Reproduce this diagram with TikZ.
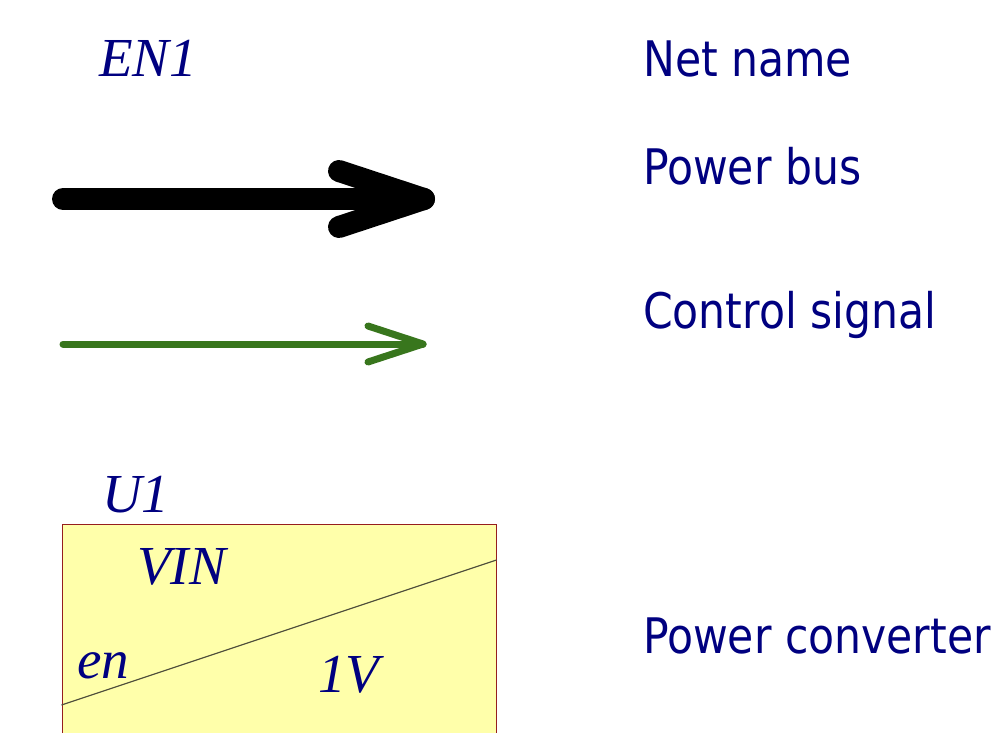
\documentclass[tikz,border=0pt]{standalone}
\usepackage{fontspec}
\setmainfont{Liberation Serif}
\newfontfamily\labelfont[FakeStretch=0.965]{DejaVu Sans Condensed}
\definecolor{navy}{RGB}{0,0,128}
\definecolor{ctrlgreen}{RGB}{56,118,29}
\definecolor{boxfill}{RGB}{255,255,170}
\definecolor{boxedge}{RGB}{150,30,30}
\definecolor{diag}{RGB}{80,80,60}
\tikzset{
  serlabel/.style={inner sep=0pt, anchor=base west, text=navy, font=\fontsize{55}{55}\selectfont\itshape},
  desc/.style={inner sep=0pt, anchor=base west, text=navy, font=\fontsize{49}{49}\selectfont\labelfont},
  bus/.style={line width=22pt, line cap=round, line join=round, black},
  ctrl/.style={line width=7pt, line cap=round, line join=round, ctrlgreen},
}
\begin{document}
\begin{tikzpicture}[x=1pt,y=-1pt]
\useasboundingbox (0,0) rectangle (1004,733);
% legend texts
\node[serlabel] (en1) at (99,77) {EN1};
\node[desc] (t1) at (643,77) {Net name};
\node[desc] (t2) at (643,185) {Power bus};
\node[desc] (t3) at (643,328) {Control signal};
\node[desc] (t4) at (643,653) {Power converter};
% power bus arrow
\coordinate (pa) at (63,199);
\coordinate (pb) at (424,199);
\coordinate (pb1) at (339,171);
\coordinate (pb2) at (339,227);
\draw[bus] (pa) -- (pb);
\draw[bus] (pb1) -- (pb) -- (pb2);
% control signal arrow
\coordinate (ca) at (63,344);
\coordinate (cb) at (423,344);
\coordinate (cb1) at (368,326);
\coordinate (cb2) at (368,362);
\draw[ctrl] (ca) -- (cb);
\draw[ctrl] (cb1) -- (cb) -- (cb2);
% power converter symbol
\node[serlabel] (u1) at (102,512) {U1};
\node[draw=boxedge, fill=boxfill, line width=1pt, inner sep=0pt, minimum width=434pt, minimum height=260pt] (box) at (279,654) {};
\coordinate (d1) at (box.west |- 0,705);
\coordinate (d2) at (box.east |- 0,560);
\draw[diag, line width=1.2pt] (d1) -- (d2);
\node[serlabel] (vin) at (137,584) {VIN};
\node[serlabel] (en) at (77,678) {en};
\node[serlabel] (v1) at (318,692) {1V};
\end{tikzpicture}
\end{document}
